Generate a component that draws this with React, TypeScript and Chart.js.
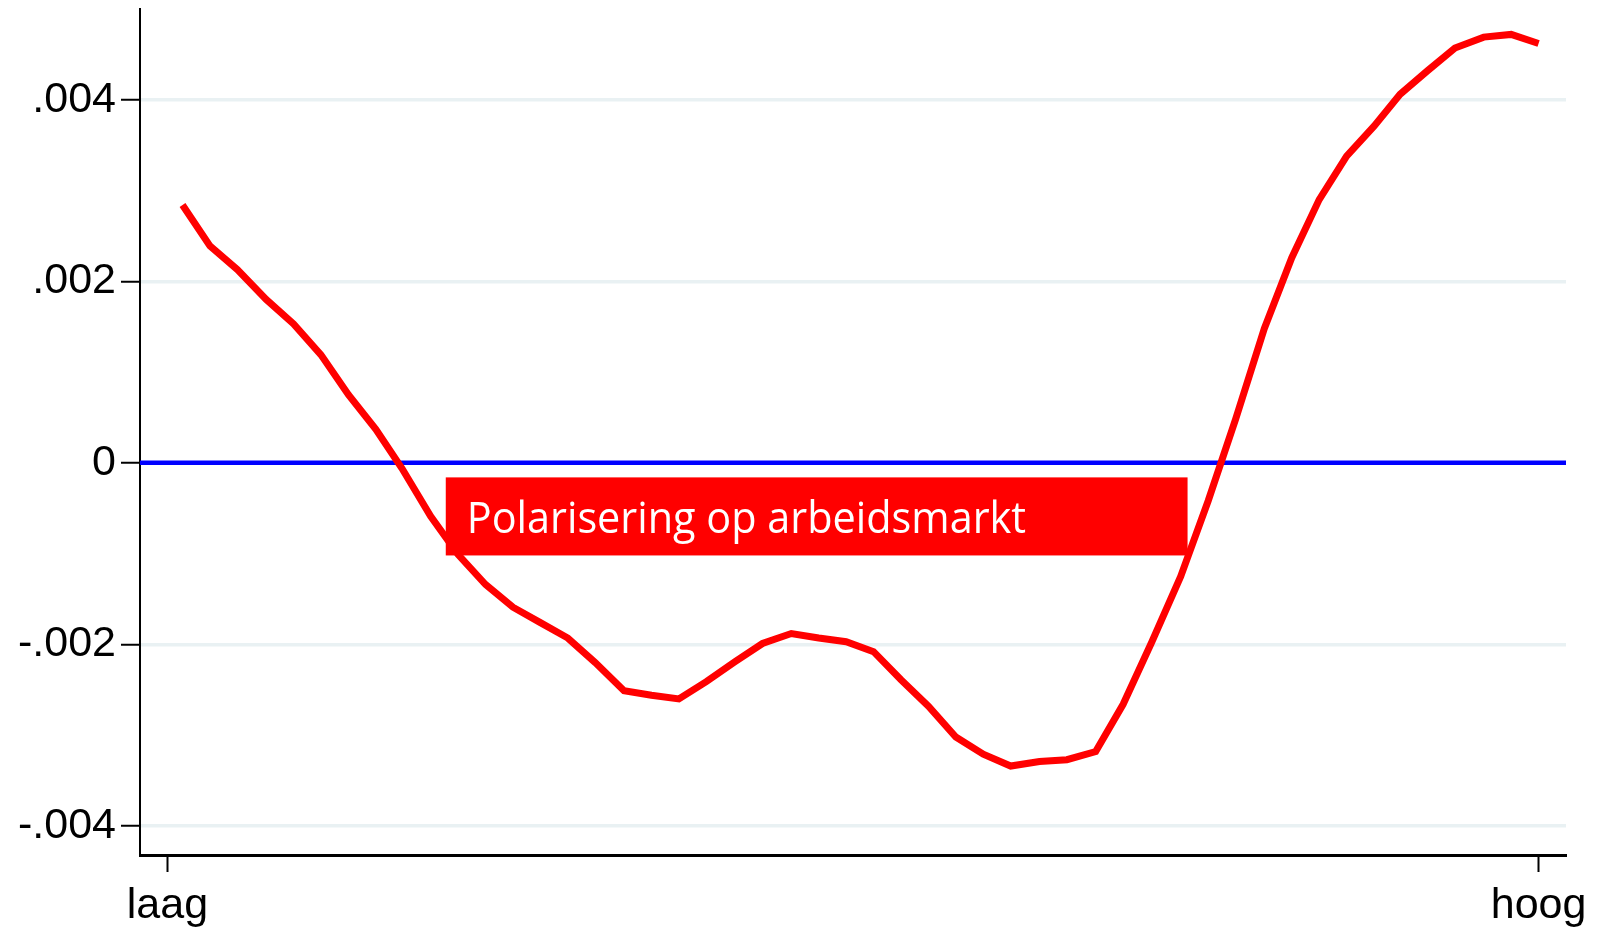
import React, { useEffect, useRef } from "react";
import { Chart, registerables } from "chart.js";

Chart.register(...registerables);

// Percentile positions (x) and values (y)
const xPositions = [
  1.1, 3.1, 5.1, 7.2, 9.2, 11.2, 13.2, 15.2, 17.1, 19.2,
  21.2, 23.2, 25.2, 27.2, 29.2, 31.2, 33.3, 35.3, 37.3, 39.3,
  41.4, 43.4, 45.5, 47.5, 49.5, 51.5, 53.5, 55.5, 57.5, 59.5,
  61.5, 63.6, 65.6, 67.7, 69.7, 71.8, 73.9, 75.9, 77.9, 80.0,
  82.0, 84.0, 86.0, 88.0, 89.9, 91.9, 93.9, 96.0, 98.0, 100.0,
];
const values = [
  0.00284, 0.00239, 0.00213, 0.0018, 0.00153, 0.00119, 0.00075, 0.00037, -0.00006, -0.00059,
  -0.00101, -0.00134, -0.00159, -0.00176, -0.00193, -0.0022, -0.00251, -0.00256, -0.0026, -0.00241,
  -0.00219, -0.00199, -0.00188, -0.00193, -0.00197, -0.00208, -0.00239, -0.00268, -0.00302, -0.00321,
  -0.00334, -0.00329, -0.00327, -0.00318, -0.00266, -0.00197, -0.00125, -0.00042, 0.00048, 0.00148,
  0.00226, 0.0029, 0.00338, 0.00371, 0.00406, 0.00432, 0.00457, 0.00469, 0.00472, 0.00462,
];

const yTicks = [-0.004, -0.002, 0, 0.002, 0.004];
const xTickValues = [0, 100];
const xTickLabels = ["laag", "hoog"];

const labelText = "Polarisering op arbeidsmarkt";
const labelBoxX = [20.3, 74.4];
const labelBoxY = [-0.00016, -0.00102];

const fmtY = (v: number) => {
  if (Math.abs(v) < 1e-12) return "0";
  const s = Math.abs(v).toFixed(3).replace(/^0/, "");
  return (v < 0 ? "-" : "") + s;
};

const labelPlugin = {
  id: "labelBox",
  afterDatasetsDraw(chart: any) {
    const { ctx, scales } = chart;
    const x0 = scales.x.getPixelForValue(labelBoxX[0]);
    const x1 = scales.x.getPixelForValue(labelBoxX[1]);
    const y0 = scales.y.getPixelForValue(labelBoxY[0]);
    const y1 = scales.y.getPixelForValue(labelBoxY[1]);
    ctx.save();
    ctx.fillStyle = "#ff0000";
    ctx.fillRect(x0, y0, x1 - x0, y1 - y0);
    ctx.font = "43px 'Open Sans'";
    ctx.fillStyle = "#ffffff";
    ctx.textBaseline = "alphabetic";
    ctx.textAlign = "left";
    const w = ctx.measureText(labelText).width;
    const targetW = (x1 - x0) * 0.754;
    const sx = targetW / w;
    ctx.translate(x0 + 21, y0 + 56);
    ctx.scale(sx, 1);
    ctx.fillText(labelText, 0, 0);
    ctx.restore();
  },
};

export default function App() {
  const ref = useRef<HTMLCanvasElement | null>(null);
  useEffect(() => {
    document.body.style.margin = "0";
    const canvas = ref.current!;
    const chart = new Chart(canvas, {
      type: "line",
      data: {
        datasets: [
          {
            data: xPositions.map((x, i) => ({ x, y: values[i] })),
            borderColor: "#ff0000",
            borderWidth: 7,
            pointRadius: 0,
            tension: 0,
            fill: false,
          },
          {
            data: [
              { x: -2, y: 0 },
              { x: 102, y: 0 },
            ],
            borderColor: "#0000ff",
            borderWidth: 4.5,
            pointRadius: 0,
            fill: false,
          },
        ],
      },
      options: {
        animation: false,
        responsive: false,
        devicePixelRatio: 1,
        layout: { padding: { top: 9, right: 37, left: 0, bottom: 0 } },
        plugins: { legend: { display: false }, tooltip: { enabled: false } },
        scales: {
          x: {
            type: "linear",
            min: -2,
            max: 102,
            afterBuildTicks: (axis: any) => {
              axis.ticks = xTickValues.map((v) => ({ value: v }));
            },
            afterFit: (axis: any) => {
              axis.height = 75;
              axis.paddingLeft = 0;
              axis.paddingRight = 0;
            },
            ticks: {
              autoSkip: false,
              maxRotation: 0,
              padding: 8,
              color: "#000000",
              font: { family: "'Liberation Sans', Arial", size: 43 },
              callback: (v: any) => {
                const i = xTickValues.indexOf(Number(v));
                return i >= 0 ? xTickLabels[i] : "";
              },
            },
            grid: {
              drawOnChartArea: false,
              drawTicks: true,
              tickLength: 17,
              tickColor: "#000000",
              tickWidth: 2,
            },
            border: { display: true, color: "#000000", width: 3 },
          },
          y: {
            type: "linear",
            min: -0.00432,
            max: 0.005,
            afterBuildTicks: (axis: any) => {
              axis.ticks = yTicks.map((v) => ({ value: v }));
            },
            afterFit: (axis: any) => {
              axis.width = 140;
              axis.paddingTop = 0;
              axis.paddingBottom = 0;
            },
            ticks: {
              autoSkip: false,
              padding: 5,
              color: "#000000",
              font: { family: "'Liberation Sans', Arial", size: 43 },
              callback: (v: any) => fmtY(Number(v)),
            },
            grid: {
              color: "#e9f1f3",
              lineWidth: 3.5,
              drawTicks: true,
              tickLength: 19,
              tickColor: "#000000",
              tickWidth: 2,
            },
            border: { display: true, color: "#000000", width: 2 },
          },
        },
      },
      plugins: [labelPlugin],
    });
    return () => chart.destroy();
  }, []);
  return (
    <div style={{ position: "absolute", left: 0, top: 0, width: 1603, height: 930, background: "#ffffff" }}>
      <canvas ref={ref} width={1603} height={930} style={{ display: "block" }} />
    </div>
  );
}
